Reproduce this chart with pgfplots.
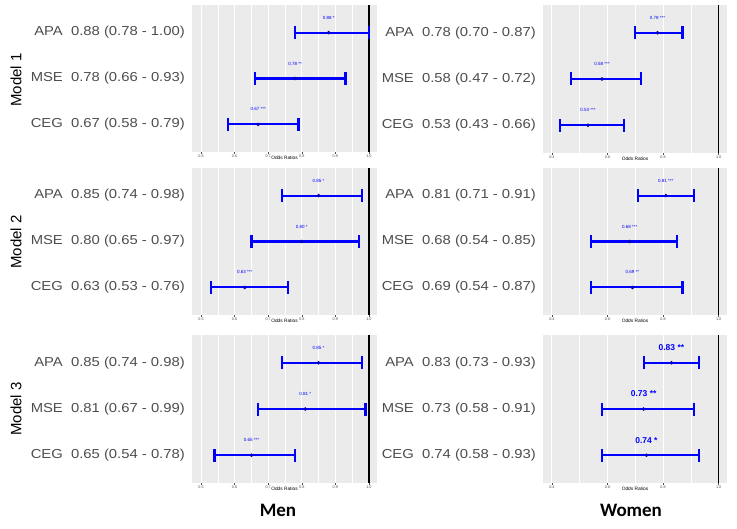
\documentclass[border=0pt]{standalone}
\usepackage{fontspec}
\setmainfont{Liberation Sans}
\newfontfamily\capfont{Carlito}
\usepackage{graphicx}
\usepackage{pgfplots}
\pgfplotsset{compat=1.18}
\usepackage{pgfplotstable}

\definecolor{panelbg}{HTML}{EBEBEB}
\definecolor{txtgray}{HTML}{4D4D4D}
\definecolor{ebblue}{HTML}{0000FF}

% row label, set a little wide as in the source image
\newcommand{\wl}[1]{\scalebox{1.14}[1]{#1}}

% odds ratios, 95% CI, label shown above the point
\pgfplotstableread[col sep=comma]{
y,or,lo,hi,lab
3,0.88,0.78,1.00,0.88 *
2,0.78,0.66,0.93,0.78 **
1,0.67,0.58,0.79,0.67 ***
}\menA
\pgfplotstableread[col sep=comma]{
y,or,lo,hi,lab
3,0.85,0.74,0.98,0.85 *
2,0.80,0.65,0.97,0.80 *
1,0.63,0.53,0.76,0.63 ***
}\menB
\pgfplotstableread[col sep=comma]{
y,or,lo,hi,lab
3,0.85,0.74,0.98,0.85 *
2,0.81,0.67,0.99,0.81 *
1,0.65,0.54,0.78,0.65 ***
}\menC
\pgfplotstableread[col sep=comma]{
y,or,lo,hi,lab
3,0.78,0.70,0.87,0.78 ***
2,0.58,0.47,0.72,0.58 ***
1,0.53,0.43,0.66,0.53 ***
}\womA
\pgfplotstableread[col sep=comma]{
y,or,lo,hi,lab
3,0.81,0.71,0.91,0.81 ***
2,0.68,0.54,0.85,0.68 ***
1,0.69,0.54,0.87,0.69 **
}\womB
\pgfplotstableread[col sep=comma]{
y,or,lo,hi,lab
3,0.83,0.73,0.93,0.83 **
2,0.73,0.58,0.91,0.73 **
1,0.74,0.58,0.93,0.74 *
}\womC

\pgfplotsset{
  forest/.style={
    scale only axis,
    anchor=south west,
    axis background/.style={fill=panelbg},
    axis line style={draw=none},
    ymin=0.4, ymax=3.6, ytick={1,2,3},
    ytick style={draw=none},
    yticklabel style={font=\fontsize{13}{15}\selectfont, text=txtgray, inner sep=0pt, xshift=-5pt},
    xtick pos=lower, tick align=outside,
    xtick style={txtgray, line width=0.4pt},
    major tick length=2pt,
    minor tick num=1, minor tick style={draw=none},
    xmajorgrids, xminorgrids,
    major grid style={white, line width=0.9pt},
    minor grid style={white, line width=0.45pt},
    xticklabel style={font=\fontsize{3.8}{4}\selectfont, text=txtgray, inner sep=1pt,
      /pgf/number format/fixed, /pgf/number format/fixed zerofill,
      /pgf/number format/precision=1, /pgf/number format/assume math mode=true},
    xlabel={Odds Ratios},
    xlabel style={font=\fontsize{4.8}{5}\selectfont, text=black, inner sep=0pt, yshift=3pt},
  },
  men/.style={forest, width=185pt, xmin=0.473, xmax=1.024, xtick={0.5,0.6,...,1.01}},
  women/.style={forest, width=184pt, xmin=0.368, xmax=1.030, xtick={0.4,0.6,0.8,1.0}},
  labfont/.style={nodes near coords style={font=\fontsize{4.5}{5}\selectfont}},
  biglab/.style={nodes near coords style={font=\fontsize{8.5}{9}\selectfont\bfseries}},
  cis/.style={
    only marks, draw=ebblue, fill=ebblue, mark=*, mark size=1.6pt,
    mark options={draw=ebblue!70!black, fill=ebblue!70!black},
    error bars/x dir=both, error bars/x explicit,
    error bars/error mark=|,
    error bars/error bar style={draw=ebblue, line width=2.1pt},
    error bars/error mark options={draw=ebblue, line width=2.2pt, mark size=6.5pt},
  },
  labs/.style={
    only marks, mark=none,
    point meta=explicit symbolic,
    nodes near coords,
    nodes near coords style={anchor=center, yshift=15pt, text=ebblue},
  },
}
\newcommand{\orplot}[2][labfont]{%
  \addplot[black, line width=1.5pt, forget plot] coordinates {(1,0.4) (1,3.6)};
  \addplot[cis] table[x=or, y=y,
    x error plus expr=\thisrow{hi}-\thisrow{or},
    x error minus expr=\thisrow{or}-\thisrow{lo}] {#2};
  \addplot[labs, #1] table[x=or, y=y, meta=lab] {#2};
}

\begin{document}
\begin{tikzpicture}
\useasboundingbox (0pt,0pt) rectangle (737pt,528pt);

% Men
\begin{axis}[men, at={(192pt,376pt)}, height=147pt,
  yticklabels={\wl{CEG\ \ 0.67 (0.58 - 0.79)}, \wl{MSE\ \ 0.78 (0.66 - 0.93)}, \wl{APA\ \ 0.88 (0.78 - 1.00)}}]
\orplot{\menA}
\end{axis}
\begin{axis}[men, at={(192pt,213pt)}, height=147pt,
  yticklabels={\wl{CEG\ \ 0.63 (0.53 - 0.76)}, \wl{MSE\ \ 0.80 (0.65 - 0.97)}, \wl{APA\ \ 0.85 (0.74 - 0.98)}}]
\orplot{\menB}
\end{axis}
\begin{axis}[men, at={(192pt,45pt)}, height=148pt,
  yticklabels={\wl{CEG\ \ 0.65 (0.54 - 0.78)}, \wl{MSE\ \ 0.81 (0.67 - 0.99)}, \wl{APA\ \ 0.85 (0.74 - 0.98)}}]
\orplot{\menC}
\end{axis}

% Women
\begin{axis}[women, at={(543pt,375pt)}, height=148pt,
  yticklabels={\wl{CEG\ \ 0.53 (0.43 - 0.66)}, \wl{MSE\ \ 0.58 (0.47 - 0.72)}, \wl{APA\ \ 0.78 (0.70 - 0.87)}}]
\orplot{\womA}
\end{axis}
\begin{axis}[women, at={(543pt,213pt)}, height=147pt,
  yticklabels={\wl{CEG\ \ 0.69 (0.54 - 0.87)}, \wl{MSE\ \ 0.68 (0.54 - 0.85)}, \wl{APA\ \ 0.81 (0.71 - 0.91)}}]
\orplot{\womB}
\end{axis}
\begin{axis}[women, at={(543pt,45pt)}, height=148pt,
  yticklabels={\wl{CEG\ \ 0.74 (0.58 - 0.93)}, \wl{MSE\ \ 0.73 (0.58 - 0.91)}, \wl{APA\ \ 0.83 (0.73 - 0.93)}}]
\orplot[biglab]{\womC}
\end{axis}

% row and column titles
\node[rotate=90, font=\fontsize{15}{17}\selectfont] at (16pt,448pt) {Model 1};
\node[rotate=90, font=\fontsize{15}{17}\selectfont] at (16pt,286pt) {Model 2};
\node[rotate=90, font=\fontsize{15}{17}\selectfont] at (16pt,119pt) {Model 3};
\node[font=\capfont\bfseries\fontsize{19}{21}\selectfont] at (278pt,18pt) {Men};
\node[font=\capfont\bfseries\fontsize{19}{21}\selectfont] at (631pt,18pt) {Women};
\end{tikzpicture}
\end{document}
